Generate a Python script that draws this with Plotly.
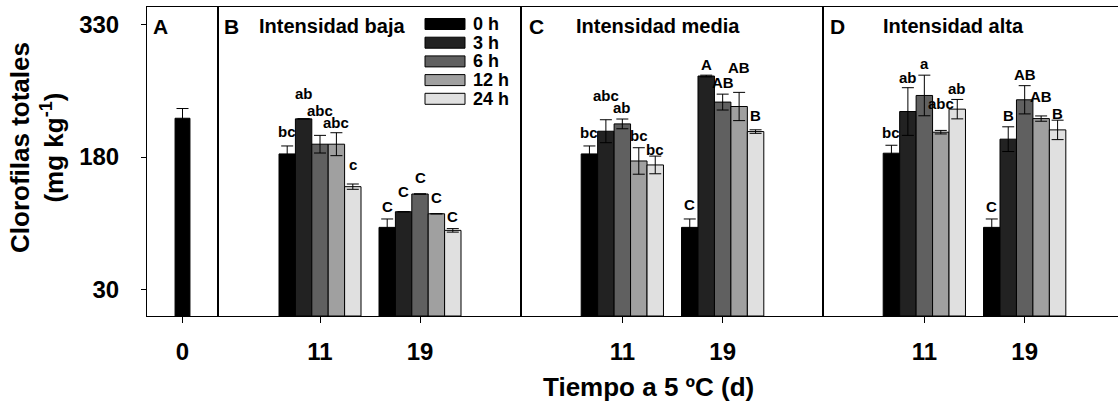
import plotly.graph_objects as go

# ---- data -------------------------------------------------------------
hours = ["0 h", "3 h", "6 h", "12 h", "24 h"]
days = [11, 19]

# A: day 0 (before storage)
control_mean = [224]
control_err = [11]

# B: low intensity, one list per storage day (order follows `hours`)
baja_d11 = [183.6, 223.3, 194.6, 194.6, 146.5]
baja_d19 = [100.4, 118.1, 138.2, 115.8, 97.0]
baja_err_d11 = [9, 0, 10, 13, 3]
baja_err_d19 = [9.5, 0, 0, 0, 2]
baja_let_d11 = ["bc", "ab", "abc", "abc", "c"]
baja_let_d19 = ["C", "C", "C", "C", "C"]

# C: medium intensity
media_d11 = [183.6, 209.3, 217.6, 175.6, 171.1]
media_d19 = [100.4, 271.8, 242.3, 237.3, 208.9]
media_err_d11 = [9, 13, 5.5, 15, 10]
media_err_d19 = [9.5, 1, 9, 16, 2]
media_let_d11 = ["bc", "abc", "ab", "bc", "bc"]
media_let_d19 = ["C", "A", "AB", "AB", "B"]

# D: high intensity
alta_d11 = [184.4, 231.6, 249.8, 208.2, 234.3]
alta_d19 = [100.4, 200.3, 244.9, 223.6, 210.8]
alta_err_d11 = [9, 27, 23, 2, 11]
alta_err_d19 = [9.5, 14, 16, 3, 11]
alta_let_d11 = ["bc", "ab", "a", "abc", "ab"]
alta_let_d19 = ["C", "B", "AB", "AB", "B"]

y_ticks = [30, 180, 330]

# ---- styling ----------------------------------------------------------
colors = ["#000000", "#222222", "#606060", "#a0a0a0", "#e0e0e0"]
FONT = "Liberation Sans, Arial, sans-serif"
W, H = 1118, 405
ML, MR, MT, MB = 147, 0, 7, 89
PW, PH = W - ML - MR, H - MT - MB
BARGAP = 0.18

# extra lift (px) of each significance letter above its error bar
lift_baja_d11 = [14, 25, 25, 10, 20]
lift_baja_d19 = [12, 20, 16, 16, 12]
lift_media_d11 = [13, 24, 12, 12, 7]
lift_media_d19 = [14, 11, 12, 25, 14]
lift_alta_d11 = [13, 10, 12, 27, 11]
lift_alta_d19 = [12, 11, 11, 19, 7]


def fx(px):
    return (px - ML) / PW


def fy(py):
    return (MT + PH - py) / PH


panels = [
    dict(ax="2", d11=baja_d11, d19=baja_d19, e11=baja_err_d11, e19=baja_err_d19,
         l11=baja_let_d11, l19=baja_let_d19, s11=lift_baja_d11, s19=lift_baja_d19,
         letter="B", title="Intensidad baja", lx=(222, 257),
         dom=(218, 521), rng=(2.84, 27.08), mirror=True),
    dict(ax="3", d11=media_d11, d19=media_d19, e11=media_err_d11, e19=media_err_d19,
         l11=media_let_d11, l19=media_let_d19, s11=lift_media_d11, s19=lift_media_d19,
         letter="C", title="Intensidad media", lx=(527, 574),
         dom=(521, 823), rng=(2.92, 27.0), mirror=True),
    dict(ax="4", d11=alta_d11, d19=alta_d19, e11=alta_err_d11, e19=alta_err_d19,
         l11=alta_let_d11, l19=alta_let_d19, s11=lift_alta_d11, s19=lift_alta_d19,
         letter="D", title="Intensidad alta", lx=(828, 881),
         dom=(823, W), rng=(2.92, 26.44), mirror=False),
]

fig = go.Figure()
annotations = []
shapes = []

line_style = dict(color="black", width=1)

# panel A
fig.add_trace(go.Bar(
    x=[0], y=control_mean, width=0.42, xaxis="x", yaxis="y",
    marker=dict(color=colors[0], line=line_style), showlegend=False,
    error_y=dict(type="data", array=control_err, color="black", thickness=1, width=6),
))

# panels B-D, grouped bars
for p in panels:
    for i, h in enumerate(hours):
        fig.add_trace(go.Bar(
            x=days, y=[p["d11"][i], p["d19"][i]], name=h,
            xaxis="x" + p["ax"], yaxis="y" + p["ax"],
            marker=dict(color=colors[i], line=line_style), showlegend=False,
            error_y=dict(type="data", array=[p["e11"][i], p["e19"][i]],
                         color="black", thickness=1, width=6),
        ))
    slot = (days[1] - days[0]) * (1 - BARGAP) / len(hours)
    for di, (vals, errs, lets, lifts) in enumerate([
            (p["d11"], p["e11"], p["l11"], p["s11"]),
            (p["d19"], p["e19"], p["l19"], p["s19"])]):
        for i in range(len(hours)):
            annotations.append(dict(
                x=days[di] + (i - (len(hours) - 1) / 2) * slot,
                y=vals[i] + errs[i], xref="x" + p["ax"], yref="y" + p["ax"],
                text=lets[i], showarrow=False, yshift=lifts[i], yanchor="middle",
                font=dict(family=FONT, size=15, color="black", weight="bold"),
            ))
    annotations.append(dict(x=fx(p["lx"][0]), y=fy(26), xref="paper", yref="paper",
                            text=p["letter"], showarrow=False, xanchor="left", yanchor="middle",
                            font=dict(family=FONT, size=21, color="black", weight="bold")))
    annotations.append(dict(x=fx(p["lx"][1]), y=fy(26), xref="paper", yref="paper",
                            text=p["title"], showarrow=False, xanchor="left", yanchor="middle",
                            font=dict(family=FONT, size=20, color="black", weight="bold")))

annotations.append(dict(x=fx(151), y=fy(26), xref="paper", yref="paper", text="A",
                        showarrow=False, xanchor="left", yanchor="middle",
                        font=dict(family=FONT, size=21, color="black", weight="bold")))

# legend drawn as wide swatches
for i, h in enumerate(hours):
    cy = 24 + i * 18.7
    shapes.append(dict(type="rect", xref="paper", yref="paper",
                       x0=fx(425), x1=fx(465), y0=fy(cy + 5.5), y1=fy(cy - 5.5),
                       fillcolor=colors[i], line=dict(color="black", width=1)))
    annotations.append(dict(x=fx(471), y=fy(cy), xref="paper", yref="paper", text=h,
                            showarrow=False, xanchor="left", yanchor="middle",
                            font=dict(family=FONT, size=18, color="black", weight="bold")))

# axis titles
annotations.append(dict(x=fx(648), y=fy(387), xref="paper", yref="paper",
                        text="Tiempo a 5 ºC (d)", showarrow=False,
                        xanchor="center", yanchor="middle",
                        font=dict(family=FONT, size=26, color="black", weight="bold")))
annotations.append(dict(x=fx(37), y=fy(148), xref="paper", yref="paper",
                        text="Clorofilas totales<br>(mg kg<sup>-1</sup>)", showarrow=False,
                        textangle=-90, xanchor="center", yanchor="middle",
                        font=dict(family=FONT, size=26, color="black", weight="bold")))

tickfont = dict(family=FONT, size=24, color="black", weight="bold")
common_x = dict(showline=True, linecolor="black", linewidth=1, mirror=True,
                ticks="outside", ticklen=6, tickcolor="black", showgrid=False,
                zeroline=False, tickfont=tickfont, ticklabelstandoff=8)
common_y = dict(showline=True, linecolor="black", linewidth=1, range=[0, 350],
                showgrid=False, zeroline=False)

layout = dict(
    width=W, height=H, margin=dict(l=ML, r=MR, t=MT, b=MB),
    paper_bgcolor="white", plot_bgcolor="white",
    barmode="group", bargap=BARGAP, bargroupgap=0,
    showlegend=False, annotations=annotations, shapes=shapes,
    xaxis=dict(common_x, domain=[0, fx(218)], range=[-1, 1], tickvals=[0],
               ticktext=["0"], anchor="y"),
    yaxis=dict(common_y, domain=[0, 1], anchor="x", mirror=True, ticks="outside",
               ticklen=5, tickcolor="black", tickvals=y_ticks, tickfont=tickfont,
               ticklabelstandoff=17),
)
for p in panels:
    a = p["ax"]
    layout["xaxis" + a] = dict(common_x, domain=[fx(p["dom"][0]), fx(p["dom"][1])],
                               range=list(p["rng"]), tickvals=days,
                               ticktext=[str(d) for d in days], anchor="y" + a)
    layout["yaxis" + a] = dict(common_y, domain=[0, 1], anchor="x" + a,
                               mirror=p["mirror"], showticklabels=False, ticks="")

fig.update_layout(**layout)
fig.write_html("out.html")
